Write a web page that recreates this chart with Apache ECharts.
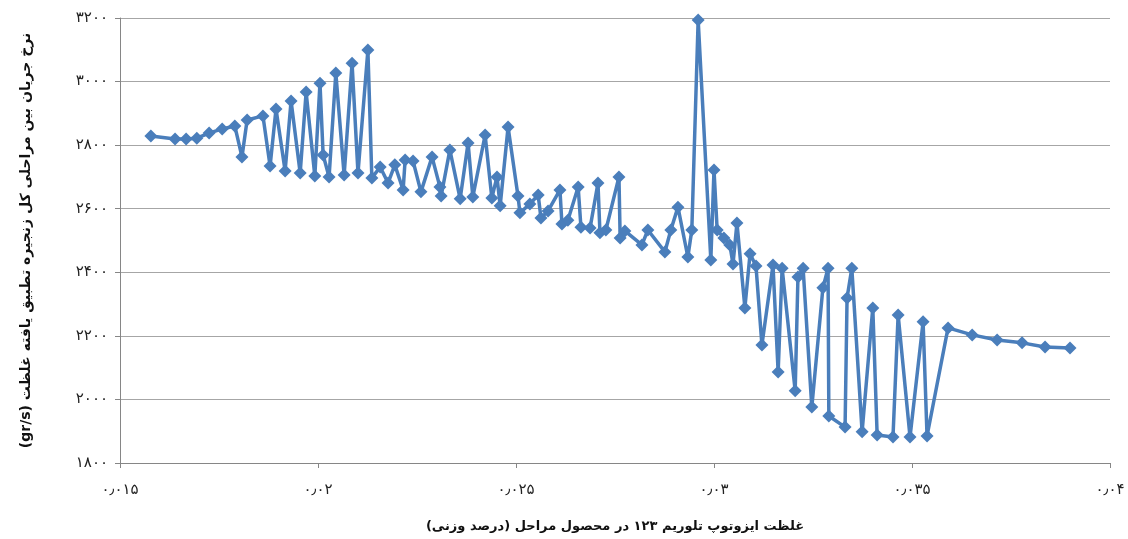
<!DOCTYPE html>
<html>
<head>
<meta charset="utf-8">
<script src="https://cdn.jsdelivr.net/npm/echarts@6/dist/echarts.min.js"></script>
<style>html,body{margin:0;padding:0;background:#fff}#c{width:1128px;height:539px}</style>
</head>
<body>
<div id="c"></div>
<script>
const concentration = [
0.01578,0.01639,0.01667,0.01694,0.01725,0.01758,0.01790,0.01808,0.01821,0.01861,
0.01879,0.01894,0.01917,0.01932,0.01955,0.01970,0.01992,0.02005,0.02013,0.02028,
0.02045,0.02066,0.02086,0.02101,0.02126,0.02136,0.02157,0.02177,0.02194,0.02215,
0.02220,0.02240,0.02260,0.02288,0.02308,0.02311,0.02333,0.02359,0.02379,0.02391,
0.02422,0.02439,0.02452,0.02460,0.02480,0.02505,0.02510,0.02535,0.02556,0.02563,
0.02581,0.02611,0.02616,0.02631,0.02657,0.02664,0.02687,0.02707,0.02712,0.02727,
0.02760,0.02763,0.02775,0.02818,0.02833,0.02876,0.02891,0.02909,0.02934,0.02944,
0.02960,0.02992,0.03000,0.03008,0.03025,0.03040,0.03048,0.03058,0.03078,0.03091,
0.03106,0.03121,0.03149,0.03162,0.03172,0.03205,0.03212,0.03225,0.03247,0.03275,
0.03288,0.03290,0.03331,0.03336,0.03348,0.03374,0.03401,0.03412,0.03452,0.03465,
0.03495,0.03528,0.03538,0.03591,0.03652,0.03715,0.03778,0.03836,0.03899
];
const flowRate = [
2829,2819,2819,2822,2838,2851,2860,2763,2879,2892,
2734,2914,2719,2939,2712,2967,2703,2995,2769,2700,
3027,2706,3058,2712,3099,2697,2731,2681,2738,2659,
2753,2750,2653,2763,2668,2640,2785,2631,2807,2637,
2832,2634,2700,2609,2857,2640,2587,2615,2643,2571,
2593,2659,2552,2564,2668,2542,2539,2681,2524,2533,
2700,2508,2530,2486,2533,2464,2533,2605,2448,2533,
3194,2439,2722,2533,2508,2486,2426,2555,2288,2458,
2420,2171,2423,2086,2413,2027,2385,2413,1976,2351,
2413,1948,1913,2319,2413,1898,2288,1888,1882,2266,
1882,2244,1885,2225,2203,2187,2178,2165,2162
];
const xTicks = [0.015,0.02,0.025,0.03,0.035,0.04];
const xTickLabels = ['۰٫۰۱۵','۰٫۰۲','۰٫۰۲۵','۰٫۰۳','۰٫۰۳۵','۰٫۰۴'];
const yTicks = [1800,2000,2200,2400,2600,2800,3000,3200];
const yTickLabels = ['۱۸۰۰','۲۰۰۰','۲۲۰۰','۲۴۰۰','۲۶۰۰','۲۸۰۰','۳۰۰۰','۳۲۰۰'];
const xTitle = 'غلظت ایزوتوپ تلوریم ۱۲۳ در محصول مراحل (درصد وزنی)';
const yTitle = 'نرخ جریان بین مراحلی کل زنجیره تطبیق یافته غلظت (gr/s)';

const RLE = '\u202B', PDF = '\u202C';
function lookup(ticks, labels, v){
  for (let i=0;i<ticks.length;i++){ if (Math.abs(ticks[i]-v) < 1e-9) return labels[i]; }
  return '';
}
const data = concentration.map((x,i)=>[x, flowRate[i]]);
const font = 'DejaVu Sans';
const chart = echarts.init(document.getElementById('c'));
chart.setOption({
  animation:false,
  backgroundColor:'#ffffff',
  grid:{left:120,right:18,top:18,bottom:76,containLabel:false},
  xAxis:{
    type:'value', min:0.015, max:0.04, interval:0.005,
    name:RLE + xTitle + PDF, nameLocation:'middle', nameGap:57,
    nameTextStyle:{fontFamily:font,fontSize:13,fontWeight:'bold',color:'#111'},
    axisLine:{show:true,lineStyle:{color:'#868686',width:1}},
    axisTick:{show:true,length:5,lineStyle:{color:'#868686'}},
    splitLine:{show:false},
    axisLabel:{margin:20,fontFamily:font,fontSize:15,color:'#222',
      formatter:v=>lookup(xTicks,xTickLabels,v)}
  },
  yAxis:{
    type:'value', min:1800, max:3200, interval:200,
    name:RLE + yTitle + PDF, nameLocation:'middle', nameGap:87, nameRotate:90,
    nameTextStyle:{fontFamily:font,fontSize:14,fontWeight:'bold',color:'#111'},
    axisLine:{show:true,lineStyle:{color:'#868686',width:1}},
    axisTick:{show:true,length:5,lineStyle:{color:'#868686'}},
    splitLine:{show:true,lineStyle:{color:'#a6a6a6',width:1}},
    axisLabel:{margin:12,fontFamily:font,fontSize:15,color:'#222',
      formatter:v=>lookup(yTicks,yTickLabels,v)}
  },
  series:[{
    type:'line', data:data,
    symbol:'diamond', symbolSize:13,
    lineStyle:{color:'#4A7EBB',width:3.5},
    itemStyle:{color:'#4A7EBB'},
    emphasis:{disabled:true}
  }]
});
</script>
</body>
</html>
